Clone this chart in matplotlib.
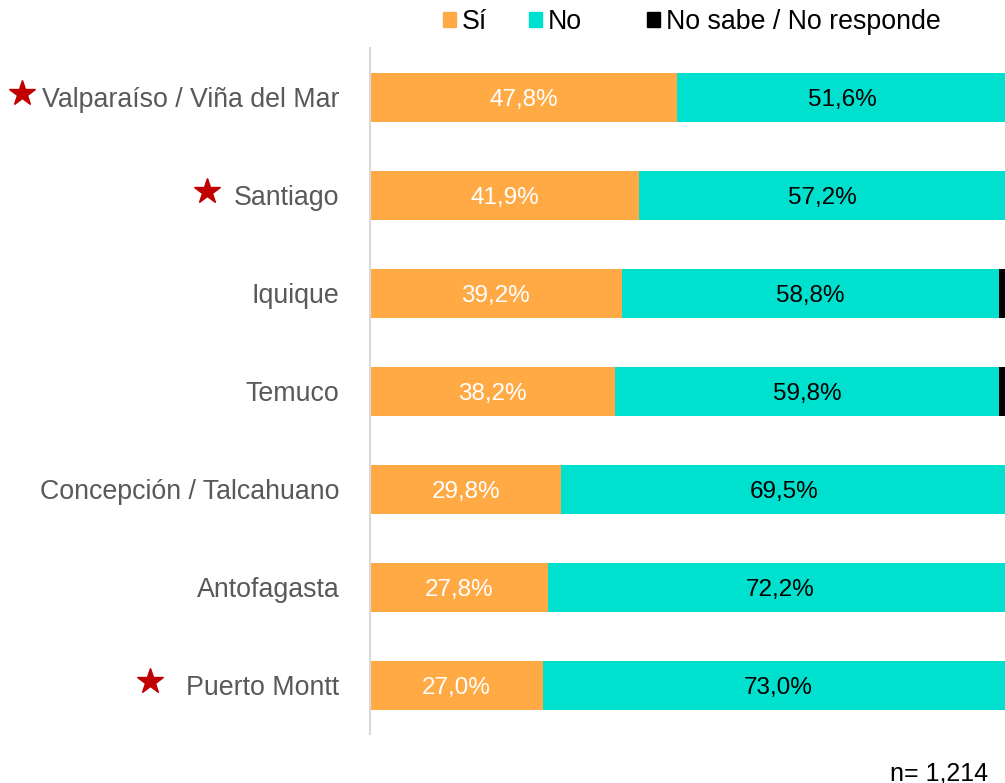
import matplotlib.pyplot as plt
from matplotlib.patches import Patch

plt.rcParams['font.family'] = ['Liberation Sans', 'DejaVu Sans']

cities = ['Valparaíso / Viña del Mar', 'Santiago', 'Iquique', 'Temuco',
          'Concepción / Talcahuano', 'Antofagasta', 'Puerto Montt']
si = [47.8, 41.9, 39.2, 38.2, 29.8, 27.8, 27.0]
no = [51.6, 57.2, 58.8, 59.8, 69.5, 72.2, 73.0]
ns_nr = [0.6, 0.9, 2.0, 2.0, 0.7, 0.0, 0.0]
starred = ['Valparaíso / Viña del Mar', 'Santiago', 'Puerto Montt']

c_si = '#FFAA45'
c_no = '#00E0CF'
c_ns = '#000000'

fig = plt.figure(figsize=(10.05, 7.83), dpi=100)
ax = fig.add_axes([370 / 1005, 1 - 734 / 783, 1 - 370 / 1005, (734 - 48) / 783])

y = list(range(len(cities)))
left_no = si
left_ns = [a + b for a, b in zip(si, no)]
ax.barh(y, si, height=0.5, color=c_si)
ax.barh(y, no, left=left_no, height=0.5, color=c_no)
ax.barh(y, ns_nr, left=left_ns, height=0.5, color=c_ns)

for i in y:
    ax.text(si[i] / 2, i + 0.03, f'{si[i]:.1f}%'.replace('.', ','), ha='center', va='center',
            color='white', fontsize=17.5)
    ax.text(si[i] + no[i] / 2, i + 0.03, f'{no[i]:.1f}%'.replace('.', ','), ha='center',
            va='center', color='black', fontsize=17.5)

ax.set_xlim(0, 98.9)
ax.set_ylim(len(cities) - 0.5, -0.5)
ax.set_yticks(y)
ax.set_yticklabels(cities, fontsize=19.3, color='#595959')
ax.tick_params(axis='y', length=0, pad=22)
ax.set_xticks([])
for s in ['top', 'right', 'bottom']:
    ax.spines[s].set_visible(False)
ax.spines['left'].set_color('#D9D9D9')
ax.spines['left'].set_linewidth(1.5)

# red stars next to some city names
star_pos = {'Valparaíso / Viña del Mar': 22, 'Santiago': 207, 'Puerto Montt': 150}
for name in starred:
    i = cities.index(name)
    yy = ax.transData.transform((0, i))[1] / fig.bbox.height + 4 / 783
    ax.plot([star_pos[name] / 1005], [yy], marker='*', markersize=19, color='#C00000',
            transform=fig.transFigure, clip_on=False, linestyle='none')

# legend entries placed one by one (uneven spacing as in the original)
entries = [(c_si, 'Sí', 443), (c_no, 'No', 529), (c_ns, 'No sabe / No responde', 647)]
for col, lab, px in entries:
    fig.legend(handles=[Patch(color=col, label=lab)], loc='center left',
               bbox_to_anchor=(px / 1005, 1 - 22 / 783), frameon=False, fontsize=19.3,
               handlelength=0.5, handleheight=0.5, handletextpad=0.2, borderpad=0,
               borderaxespad=0)

fig.text(988 / 1005, 1 - 773 / 783, 'n= 1,214', ha='right', va='center', fontsize=18)

fig.savefig('out.png', dpi=100)
